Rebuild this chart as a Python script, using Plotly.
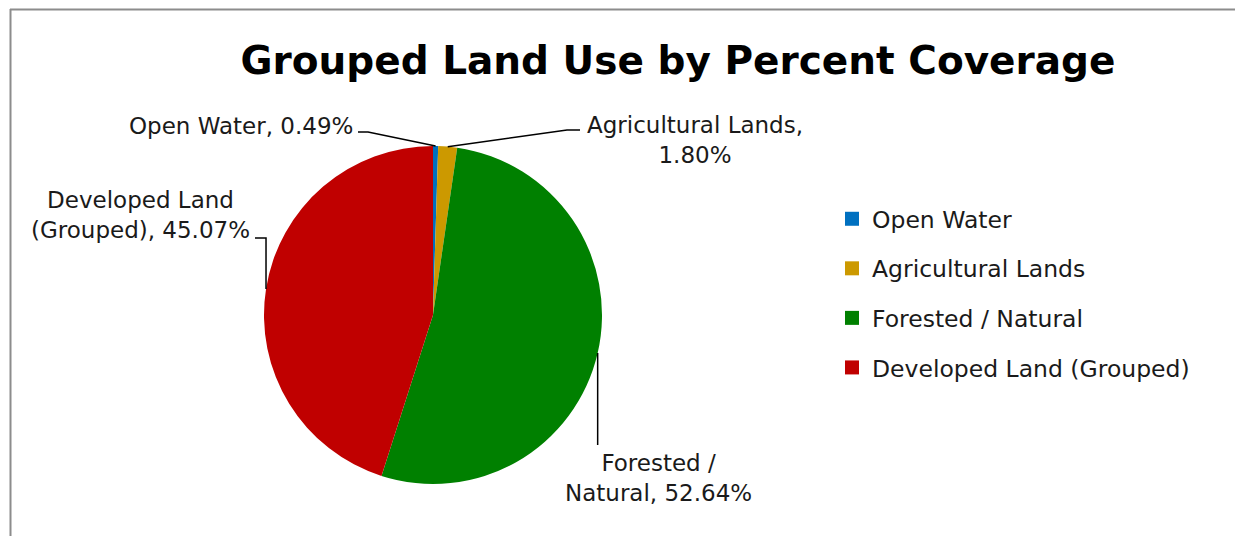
import math
import plotly.graph_objects as go

# ---- data ----
categories = ["Open Water", "Agricultural Lands", "Forested / Natural", "Developed Land (Grouped)"]
percentages = [0.49, 1.80, 52.64, 45.07]
colors = ["#0070C0", "#CC9900", "#008000", "#C00000"]
label_templates = [
    "Open Water, {v}",
    "Agricultural Lands,<br>{v}",
    "Forested /<br>Natural, {v}",
    "Developed Land<br>(Grouped), {v}",
]

W, H = 1235, 536
FONT = "DejaVu Sans"

def px(x):
    return x / W

def py(y):
    return 1 - y / H

# pie geometry (pixels)
cx, cy, r = 433, 315, 169

fig = go.Figure()
fig.add_trace(go.Pie(
    labels=categories, values=percentages, sort=False, direction="clockwise",
    rotation=0, marker=dict(colors=colors, line=dict(width=0)),
    textinfo="none", hoverinfo="label+percent", showlegend=False,
    domain=dict(x=[px(cx - r), px(cx + r)], y=[py(cy + r), py(cy - r)]),
))

# legend entries (square markers), one group each for spacing
for name, col in zip(categories, colors):
    fig.add_trace(go.Scatter(
        x=[None], y=[None], mode="markers", name=name, legendgroup=name,
        marker=dict(symbol="square", size=14, color=col),
    ))

# label placement (pixels)
label_pos = [
    dict(x=355, y=126, xanchor="right", align="right"),
    dict(x=695, y=140, xanchor="center", align="center"),
    dict(x=658, y=478, xanchor="center", align="center"),
    dict(x=252, y=215, xanchor="right", align="center"),
]

total = sum(percentages)
cum = 0.0
shapes = []
annotations = []
for i, v in enumerate(percentages):
    mid = (cum + v / 2) / total * 2 * math.pi
    cum += v
    ex = cx + r * math.sin(mid)
    ey = cy - r * math.cos(mid)
    if i == 0:
        pts = [(ex, ey), (368, 132), (358, 132)]
    elif i == 1:
        pts = [(ex, ey), (567, 130), (580, 130)]
    elif i == 2:
        pts = [(ex, ey), (ex, 445)]
    else:
        pts = [(ex, ey), (ex, 238), (255, 238)]
    path = "M " + " L ".join(f"{px(a):.5f},{py(b):.5f}" for a, b in pts)
    shapes.append(dict(type="path", xref="paper", yref="paper", path=path,
                       line=dict(color="black", width=1.5)))
    lp = label_pos[i]
    annotations.append(dict(
        x=px(lp["x"]), y=py(lp["y"]), xref="paper", yref="paper",
        xanchor=lp["xanchor"], yanchor="middle", align=lp["align"],
        text=label_templates[i].format(v=f"{v:.2f}%"), showarrow=False,
        font=dict(family=FONT, size=23, color="#1a1a1a"),
    ))

# chart border (top and left visible)
shapes.append(dict(type="line", xref="paper", yref="paper",
                   x0=px(10), x1=1, y0=py(9.5), y1=py(9.5),
                   line=dict(color="#8c8c8c", width=2)))
shapes.append(dict(type="line", xref="paper", yref="paper",
                   x0=px(10.5), x1=px(10.5), y0=py(9), y1=0,
                   line=dict(color="#8c8c8c", width=2)))

fig.update_layout(
    width=W, height=H,
    margin=dict(l=0, r=0, t=0, b=0),
    paper_bgcolor="white", plot_bgcolor="white",
    title=dict(text="<b>Grouped Land Use by Percent Coverage</b>",
               x=px(678), xanchor="center", y=py(60), yanchor="middle",
               font=dict(family=FONT, size=39, color="black")),
    xaxis=dict(visible=False), yaxis=dict(visible=False),
    showlegend=True,
    legend=dict(x=px(832), y=py(197), xanchor="left", yanchor="top",
                font=dict(family=FONT, size=23.5, color="#1a1a1a"),
                tracegroupgap=16, bgcolor="rgba(0,0,0,0)"),
    shapes=shapes, annotations=annotations,
)

fig.write_html("out.html", config={"displayModeBar": False},
               post_script="document.body.style.margin='0';document.body.style.overflow='hidden';")
